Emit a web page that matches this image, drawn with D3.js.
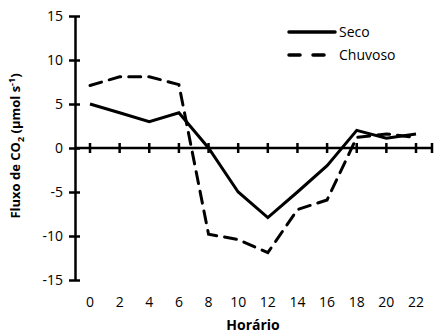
<!DOCTYPE html>
<html>
<head>
<meta charset="utf-8">
<script src="https://cdn.jsdelivr.net/npm/d3@7"></script>
<style>
  html, body { margin: 0; padding: 0; background: #fff; }
  svg { display: block; }
  text { font-family: "Open Sans", "Liberation Sans", sans-serif; fill: #000; }
</style>
</head>
<body>
<div id="chart"></div>
<script>
// Hourly CO2 flux for dry (Seco) and rainy (Chuvoso) seasons
const hours = [0, 2, 4, 6, 8, 10, 12, 14, 16, 18, 20, 22];
const seco = [5, 4, 3, 4, 0, -5, -7.9, -5, -2, 2, 1.1, 1.6];
const chuvoso = [7.1, 8.1, 8.1, 7.2, -9.8, -10.4, -11.9, -7, -5.9, 1.2, 1.6, 1.2];
const yTicks = [-15, -10, -5, 0, 5, 10, 15];

const W = 439, H = 333;
const svg = d3.select("#chart").append("svg").attr("width", W).attr("height", H);

const x = d3.scalePoint().domain(hours).range([90, 416]);
const y = d3.scaleLinear().domain([-15, 15]).range([280, 16]);
const axisX0 = 75, axisX1 = 432;

// Vertical axis with ticks crossing the line
const yAxis = svg.append("g").attr("transform", `translate(${axisX0},0)`)
  .call(d3.axisLeft(y).tickValues(yTicks).tickFormat(d => String(d))
    .tickSize(0).tickPadding(12).tickSizeOuter(0));
yAxis.select(".domain").attr("stroke", "#000").attr("stroke-width", 2.5);
yAxis.selectAll("text").style("font-size", "14px").attr("dy", "0.35em");
yAxis.selectAll(".tick").append("line")
  .attr("x1", -6).attr("x2", 5).attr("stroke", "#000").attr("stroke-width", 2.5);

// Horizontal axis at zero
const xAxisG = svg.append("g");
xAxisG.append("line")
  .attr("x1", axisX0).attr("x2", axisX1)
  .attr("y1", y(0)).attr("y2", y(0))
  .attr("stroke", "#000").attr("stroke-width", 2.5);
xAxisG.selectAll("line.tk").data(hours).enter().append("line")
  .attr("class", "tk")
  .attr("x1", d => x(d)).attr("x2", d => x(d))
  .attr("y1", y(0) - 5).attr("y2", y(0) + 5)
  .attr("stroke", "#000").attr("stroke-width", 2.5);
xAxisG.append("line")
  .attr("x1", axisX1).attr("x2", axisX1)
  .attr("y1", y(0) - 5).attr("y2", y(0) + 5)
  .attr("stroke", "#000").attr("stroke-width", 2.5);

// Hour labels along the bottom
svg.append("g").selectAll("text").data(hours).enter().append("text")
  .attr("x", d => x(d)).attr("y", 307)
  .attr("text-anchor", "middle")
  .style("font-size", "14px")
  .text(d => d);

// Axis titles
svg.append("text")
  .attr("x", 253).attr("y", 330)
  .attr("text-anchor", "middle")
  .style("font-size", "14px").style("font-weight", "bold")
  .text("Horário");

const yt = svg.append("text")
  .attr("transform", `translate(20,146) rotate(-90)`)
  .attr("text-anchor", "middle")
  .style("font-size", "13px").style("font-weight", "bold");
yt.append("tspan").text("Fluxo de CO");
yt.append("tspan").attr("dy", 4).style("font-size", "9px").text("2");
yt.append("tspan").attr("dy", -4).text(" (µmol s");
yt.append("tspan").attr("dy", -5).style("font-size", "9px").text("-1");
yt.append("tspan").attr("dy", 5).text(")");

// Series lines
const line = d3.line().x((d, i) => x(hours[i])).y(d => y(d));
svg.append("path").datum(seco).attr("d", line)
  .attr("fill", "none").attr("stroke", "#000").attr("stroke-width", 3)
  .attr("stroke-linejoin", "miter");
svg.append("path").datum(chuvoso).attr("d", line)
  .attr("fill", "none").attr("stroke", "#000").attr("stroke-width", 3)
  .attr("stroke-dasharray", "12,8").attr("stroke-linecap", "round");

// Legend
const lg = svg.append("g");
lg.append("line").attr("x1", 289).attr("x2", 335).attr("y1", 32).attr("y2", 32)
  .attr("stroke", "#000").attr("stroke-width", 3.5).attr("stroke-linecap", "round");
lg.append("line").attr("x1", 289).attr("x2", 327).attr("y1", 55).attr("y2", 55)
  .attr("stroke", "#000").attr("stroke-width", 3.5).attr("stroke-linecap", "round")
  .attr("stroke-dasharray", "11,13");
lg.append("text").attr("x", 339).attr("y", 37).style("font-size", "14px").text("Seco");
lg.append("text").attr("x", 339).attr("y", 60).style("font-size", "14px").text("Chuvoso");
</script>
</body>
</html>
